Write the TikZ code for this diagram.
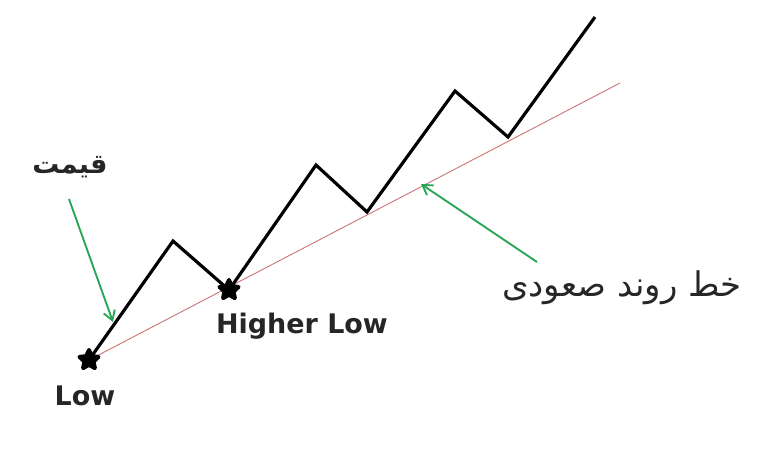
\documentclass[tikz,border=0pt]{standalone}
\usepackage{fontspec}
\setmainfont{DejaVu Sans}
\newfontfamily\arabicfont[Script=Arabic]{DejaVu Sans}
\TeXXeTstate=1
\usetikzlibrary{shapes.geometric,arrows.meta}
\definecolor{trendred}{RGB}{205,120,120}
\definecolor{arrowgreen}{RGB}{40,165,85}
\begin{document}
\begin{tikzpicture}[
		x=0.03cm, y=-0.03cm,
		price/.style={line width=2.7pt, line join=miter, black},
		trend/.style={line width=0.8pt, trendred},
		pointer/.style={line width=1.6pt, arrowgreen, -{Straight Barb[length=8pt,width=10pt]}},
		pivot/.style={star, star points=5, star point ratio=2.1, fill=black, draw=black,
				line join=round, line width=3.5pt, minimum size=17pt, inner sep=0pt},
		tag/.style={font=\bfseries\fontsize{23}{27}\selectfont, text=black!85},
		farsi/.style={font=\arabicfont\fontsize{29}{34}\selectfont, text=black!85}
	]
	\useasboundingbox (0,0) rectangle (768,463);
	% price swings
	\coordinate (p0) at (89,360);
	\coordinate (p1) at (173,241);
	\coordinate (p2) at (229,290);
	\coordinate (p3) at (316,165);
	\coordinate (p4) at (367,212);
	\coordinate (p5) at (455,91);
	\coordinate (p6) at (508,137);
	\coordinate (p7) at (595,17);
	\coordinate (tend) at (620,83);
	\draw[trend] (p0) -- (tend);
	\draw[price] (p0) -- (p1) -- (p2) -- (p3) -- (p4) -- (p5) -- (p6) -- (p7);
	\node[pivot] (low) at (p0) {};
	\node[pivot] (hlow) at (p2) {};
	% labels
	\node[tag] (lowtxt) at (85,396) {Low};
	\node[tag] (hlowtxt) at (302,326) {Higher Low};
	\node[farsi, font=\arabicfont\bfseries\fontsize{23}{27}\selectfont] (price) at (70,167) {\beginR قیمت\endR};
	\node[farsi] (trendtxt) at (622,288) {\beginR خط روند صعودی\endR};
	% pointers
	\coordinate (a1) at (69,199);
	\coordinate (b1) at (113,322);
	\coordinate (a2) at (537,262);
	\coordinate (b2) at (421,184);
	\draw[pointer] (a1) -- (b1);
	\draw[pointer] (a2) -- (b2);
\end{tikzpicture}
\end{document}
